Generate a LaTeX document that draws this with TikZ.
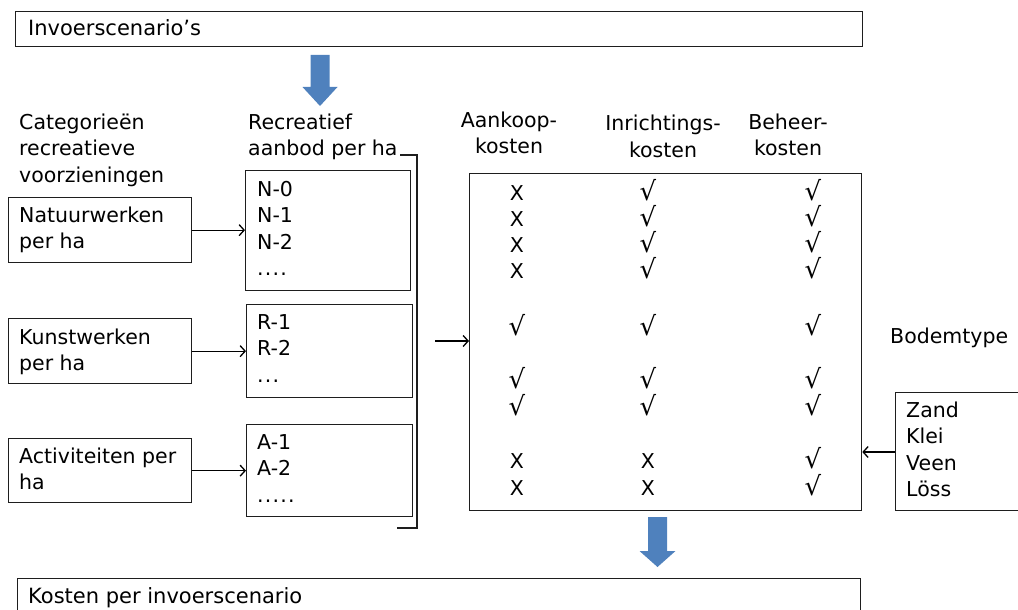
\documentclass[tikz,border=0pt]{standalone}
\usepackage{fontspec}
\setmainfont{DejaVu Sans}
\usetikzlibrary{arrows.meta}
\definecolor{arrowblue}{RGB}{79,129,189}
\definecolor{linegray}{RGB}{30,30,30}
\newcommand\vchk{{\fontsize{26}{26}\selectfont √}}
\newcommand\dt{.\kern1.2pt}
\begin{document}
\begin{tikzpicture}[x=1pt,y=-1pt,
  txt/.style={inner sep=0pt, anchor=base west, align=left, font=\fontsize{20.5}{26.6}\selectfont},
  hdr/.style={inner sep=0pt, anchor=base, align=center, font=\fontsize{20.5}{26.6}\selectfont},
  cell/.style={inner sep=0pt, anchor=base, font=\fontsize{20.5}{24}\selectfont},
  box/.style={draw=linegray, line width=1.3pt, inner sep=0pt, rectangle, anchor=north west},
  conn/.style={draw=black, line width=1.3pt, -{Straight Barb[length=5pt,width=11pt]}},
  bluearrow/.style={fill=arrowblue}
]
\useasboundingbox (0,0) rectangle (1018,610);
\clip (0,0) rectangle (1018,610);

% boxes
\node[box, minimum width=847pt, minimum height=35pt] (top) at (15,11) {};
\node[box, minimum width=183pt, minimum height=65pt] (natuur) at (8,197) {};
\node[box, minimum width=183pt, minimum height=65pt] (kunst) at (8,318) {};
\node[box, minimum width=183pt, minimum height=64pt] (activ) at (8,438) {};
\node[box, minimum width=165pt, minimum height=120pt] (nbox) at (245,170) {};
\node[box, minimum width=166pt, minimum height=93pt] (rbox) at (246,304) {};
\node[box, minimum width=166pt, minimum height=92pt] (abox) at (246,424) {};
\node[box, minimum width=392pt, minimum height=337pt] (big) at (469,173) {};
\node[box, minimum width=140pt, minimum height=118pt] (bodem) at (895,392) {};
\node[box, minimum width=843pt, minimum height=50pt] (bottom) at (17,578) {};

% texts (anchor base = baseline of the last line)
\node[txt, font=\fontsize{21}{26.6}\selectfont] (tin) at (28,36) {Invoerscenario’s};
\node[txt, font=\fontsize{21}{26.6}\selectfont] (tout) at (28,603) {Kosten per invoerscenario};
\node[txt] (tcat) at (19,182.2) {Categorieën\\recreatieve\\voorzieningen};
\node[txt] (trec) at (248,155.6) {Recreatief\\aanbod per ha};
\node[txt] (tnat) at (19,248.6) {Natuurwerken\\per ha};
\node[txt] (tkun) at (19,370.6) {Kunstwerken\\per ha};
\node[txt] (tact) at (19,489.6) {Activiteiten per\\ha};
\node[txt] (tn) at (257,275.8) {N-0\\N-1\\N-2\\{\dt\dt\dt.}};
\node[txt] (tr) at (257,382.2) {R-1\\R-2\\{\dt\dt.}};
\node[txt] (ta) at (257,502.2) {A-1\\A-2\\{\dt\dt\dt\dt.}};
\node[hdr] (h1) at (509,153.6) {Aankoop-\\kosten};
\node[hdr] (h2) at (663,157.6) {Inrichtings-\\kosten};
\node[hdr] (h3) at (788,155.6) {Beheer-\\kosten};
\node[txt] (tbod) at (890,343) {Bodemtype};
\node[txt] (tsoil) at (906,496.8) {Zand\\Klei\\Veen\\Löss};

% table marks
\foreach \yy/\a/\b/\c [count=\i] in {200/X/\vchk/\vchk, 226/X/\vchk/\vchk, 252/X/\vchk/\vchk, 278/X/\vchk/\vchk, 335/\vchk/\vchk/\vchk, 388/\vchk/\vchk/\vchk, 415/\vchk/\vchk/\vchk, 468/X/X/\vchk, 495/X/X/\vchk} {
  \node[cell] (ca\i) at (517,\yy) {\a};
  \node[cell] (cb\i) at (648,\yy) {\b};
  \node[cell] (cc\i) at (813,\yy) {\c};
}

% connectors
\draw[conn] (natuur.east) -- (natuur.east -| nbox.west);
\draw[conn] (kunst.east) -- (kunst.east -| rbox.west);
\draw[conn] (activ.east) -- (activ.east -| abox.west);
\coordinate (bk) at (435,341);
\draw[conn] (bk) -- (bk -| big.west);
\coordinate (soily) at (0,452);
\draw[conn] (bodem.west |- soily) -- (big.east |- soily);

% bracket
\coordinate (br1) at (400,155);
\coordinate (br2) at (397,528);
\draw[line width=2.2pt, draw=linegray] (br1) -- (417,155) -- (417,528) -- (br2);

% blue arrows
\fill[bluearrow] (310.5,55) -- (329.5,55) -- (329.5,87) -- (337.5,87) -- (320,106) -- (302.5,87) -- (310.5,87) -- cycle;
\fill[bluearrow] (648,517) -- (667,517) -- (667,551) -- (675.5,551) -- (657.5,567) -- (639.5,551) -- (648,551) -- cycle;
\end{tikzpicture}
\end{document}
